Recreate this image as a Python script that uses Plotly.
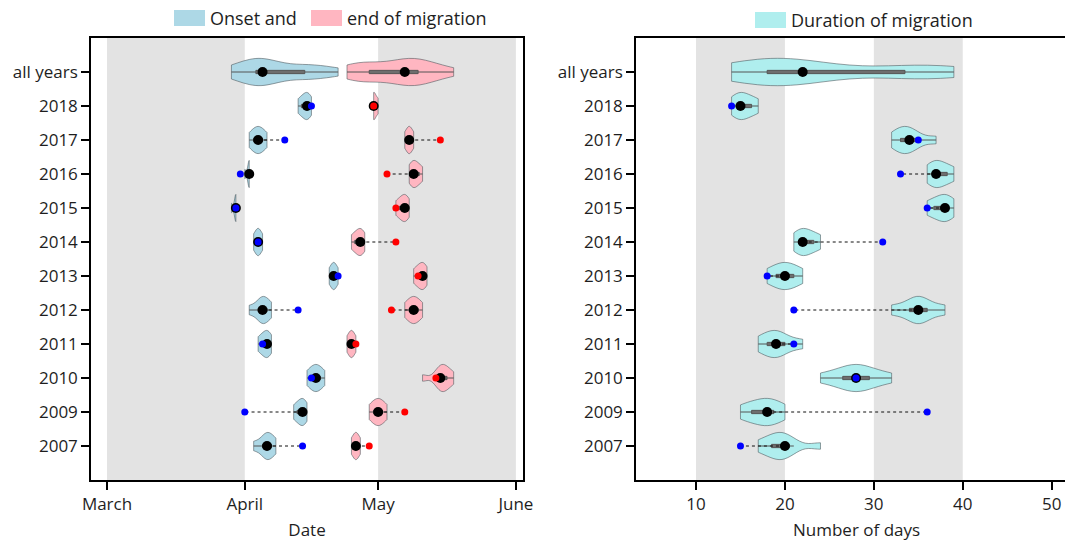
import plotly.graph_objects as go

W, H = 1065, 542

rows = ["all years", "2018", "2017", "2016", "2015", "2014", "2013",
        "2012", "2011", "2010", "2009", "2007"]

# Onset of migration (day of year)
onset_samples = [
    [88, 89, 91, 92, 93, 94, 94, 95, 95, 95, 96, 96, 98, 103, 104, 105, 106, 107, 111, 112],
    [103, 104, 105, 105, 106],
    [92, 93, 94, 94, 95, 96],
    [91, 92, 92, 92],
    [88, 89, 89, 89],
    [93, 94, 94, 95],
    [110, 111, 111, 112],
    [92, 94, 95, 95, 96, 97],
    [94, 95, 96, 96, 97],
    [105, 106, 107, 107, 108, 109],
    [102, 103, 104, 104, 105],
    [93, 95, 96, 96, 97, 98],
]
onset_median = [95, 105, 94, 92, 89, 94, 111, 95, 96, 107, 104, 96]
onset_observed = [None, 106, 100, 90, 89, 94, 112, 103, 95, 106, 91, 104]

# End of migration (day of year)
end_samples = [
    [114, 115, 116, 117, 117, 119, 120, 121, 124, 125, 127, 127, 128, 128, 129, 129,
     130, 131, 132, 134, 135, 138],
    [120, 120, 121],
    [127, 128, 128, 129],
    [128, 129, 129, 130, 131],
    [125, 126, 127, 127, 128],
    [115, 116, 117, 117, 118],
    [129, 130, 131, 131, 132],
    [127, 128, 129, 129, 130, 131],
    [114, 115, 115, 116],
    [131, 134, 135, 135, 136, 136, 137, 138],
    [119, 120, 121, 121, 122, 123],
    [115, 116, 116, 117],
]
end_median = [127, 120, 128, 129, 127, 117, 131, 129, 115, 135, 121, 116]
end_observed = [None, 120, 135, 123, 125, 125, 130, 124, 116, 134, 127, 119]

# Duration of migration (days)
duration_samples = [
    [14, 15, 15, 16, 17, 18, 18, 19, 19, 20, 20, 21, 22, 22, 23, 24, 28, 33, 34, 35,
     36, 37, 38, 39],
    [14, 15, 15, 16, 17],
    [32, 33, 33, 34, 34, 35, 37],
    [36, 37, 37, 38, 39],
    [36, 37, 38, 38, 39],
    [21, 22, 22, 23, 24],
    [18, 19, 20, 20, 21, 22],
    [32, 34, 35, 35, 36, 38],
    [17, 18, 19, 19, 20, 22],
    [24, 26, 27, 28, 28, 29, 30, 32],
    [15, 16, 17, 18, 18, 19, 20],
    [17, 18, 19, 19, 20, 20, 21, 24],
]
duration_median = [22, 15, 34, 37, 38, 22, 20, 35, 19, 28, 18, 20]
duration_observed = [None, 14, 35, 33, 36, 31, 18, 21, 21, 28, 36, 15]

month_ticks = [60, 91, 121, 152]
month_labels = ["March", "April", "May", "June"]
month_shading = [(60, 91), (121, 152)]

day_ticks = [10, 20, 30, 40, 50]
day_shading = [(10, 20), (30, 40)]

BLUE, PINK, CYAN = "#ADD8E6", "#FFB6C1", "#AFEEEE"
EDGE = "rgba(70,80,85,0.55)"
FONT = "Open Sans"
TXT = "#1e1e1e"


def violins(samples, fill, tag, xa, ya):
    # one trace per row so that every violin is scaled to its own peak
    out = []
    for name, vals in zip(rows, samples):
        out.append(go.Violin(
            x=vals, y=[name] * len(vals), orientation="h", side="both",
            fillcolor=fill, line=dict(color=EDGE, width=1), opacity=1,
            spanmode="hard", scalemode="width", scalegroup=f"{tag}-{name}",
            width=0.8, points=False,
            box=dict(visible=True, width=0.12, fillcolor="#6e6e6e",
                     line=dict(color="#555555", width=1)),
            meanline=dict(visible=False), showlegend=False, hoverinfo="skip",
            xaxis=xa, yaxis=ya,
        ))
    return out


def connectors(med, obs, xa, ya):
    xs, ys = [], []
    for name, m, o in zip(rows, med, obs):
        if o is None:
            continue
        xs += [m, o, None]
        ys += [name, name, None]
    return go.Scatter(x=xs, y=ys, mode="lines",
                      line=dict(color="#111111", width=1, dash="dot"),
                      showlegend=False, hoverinfo="skip", xaxis=xa, yaxis=ya)


def dots(vals, color, size, xa, ya):
    pts = [(v, r) for v, r in zip(vals, rows) if v is not None]
    return go.Scatter(x=[p[0] for p in pts], y=[p[1] for p in pts], mode="markers",
                      marker=dict(color=color, size=size, line=dict(width=0)),
                      showlegend=False, hoverinfo="skip", xaxis=xa, yaxis=ya)


fig = go.Figure()

# Left panel: onset and end dates
fig.add_traces(violins(onset_samples, BLUE, "onset", "x", "y"))
fig.add_traces(violins(end_samples, PINK, "end", "x", "y"))
fig.add_trace(connectors(onset_median, onset_observed, "x", "y"))
fig.add_trace(connectors(end_median, end_observed, "x", "y"))
fig.add_trace(dots(onset_median, "black", 10, "x", "y"))
fig.add_trace(dots(end_median, "black", 10, "x", "y"))
fig.add_trace(dots(onset_observed, "#0000ff", 7, "x", "y"))
fig.add_trace(dots(end_observed, "#ff0000", 7, "x", "y"))

# Right panel: duration
fig.add_traces(violins(duration_samples, CYAN, "duration", "x2", "y2"))
fig.add_trace(connectors(duration_median, duration_observed, "x2", "y2"))
fig.add_trace(dots(duration_median, "black", 10, "x2", "y2"))
fig.add_trace(dots(duration_observed, "#0000ff", 7, "x2", "y2"))

shapes = []
for a, b in month_shading:
    shapes.append(dict(type="rect", xref="x", yref="y domain", x0=a, x1=b, y0=0, y1=1,
                       fillcolor="#e3e3e3", line=dict(width=0), layer="below"))
for a, b in day_shading:
    shapes.append(dict(type="rect", xref="x2", yref="y2 domain", x0=a, x1=b, y0=0, y1=1,
                       fillcolor="#e3e3e3", line=dict(width=0), layer="below"))


def px(x):
    return x / W


def py(y):
    return 1 - y / H


# Legend swatches and labels
legend_items = [
    (174, 10, "Onset and", BLUE),
    (311, 10, "end of migration", PINK),
    (755, 12, "Duration of migration", CYAN),
]
annotations = []
for x0, y0, label, col in legend_items:
    shapes.append(dict(type="rect", xref="paper", yref="paper",
                       x0=px(x0), x1=px(x0 + 31), y0=py(y0 + 16), y1=py(y0),
                       fillcolor=col, line=dict(width=0)))
    annotations.append(dict(xref="paper", yref="paper", x=px(x0 + 34), y=py(y0 + 8),
                            text=label, showarrow=False, xanchor="left", yanchor="middle",
                            font=dict(family=FONT, size=18, color=TXT)))

annotations.append(dict(xref="paper", yref="paper", x=px(856), y=py(529),
                        text="Number of days", showarrow=False,
                        xanchor="center", yanchor="middle",
                        font=dict(family=FONT, size=17, color=TXT)))

axis_common = dict(showgrid=False, zeroline=False, showline=True, linecolor="black",
                   linewidth=1.5, ticks="outside", ticklen=8, tickwidth=1.5,
                   tickcolor="black", automargin=False,
                   tickfont=dict(family=FONT, size=17, color=TXT))

ydom = [62 / H, 504 / H]
cat_order = rows[::-1]

fig.update_layout(
    width=W, height=H, margin=dict(l=0, r=0, t=0, b=0, autoexpand=False),
    paper_bgcolor="white", plot_bgcolor="white",
    violinmode="overlay", showlegend=False,
    font=dict(family=FONT, size=17, color=TXT),
    xaxis=dict(axis_common, domain=[91 / W, 523 / W], range=[56.4, 153.6],
               tickvals=month_ticks, ticktext=month_labels, mirror=True, anchor="y",
               title=dict(text="Date", font=dict(family=FONT, size=17, color=TXT),
                          standoff=10)),
    yaxis=dict(axis_common, domain=ydom, type="category", categoryorder="array",
               categoryarray=cat_order, range=[-1, 12], mirror=True, anchor="x"),
    xaxis2=dict(axis_common, domain=[636 / W, 1.0], range=[3.25, 51.5],
                tickvals=day_ticks, mirror=True, anchor="y2"),
    yaxis2=dict(axis_common, domain=ydom, type="category", categoryorder="array",
                categoryarray=cat_order, range=[-1, 12], mirror=False, anchor="x2"),
    shapes=shapes, annotations=annotations,
)

fig.write_html("out.html")
